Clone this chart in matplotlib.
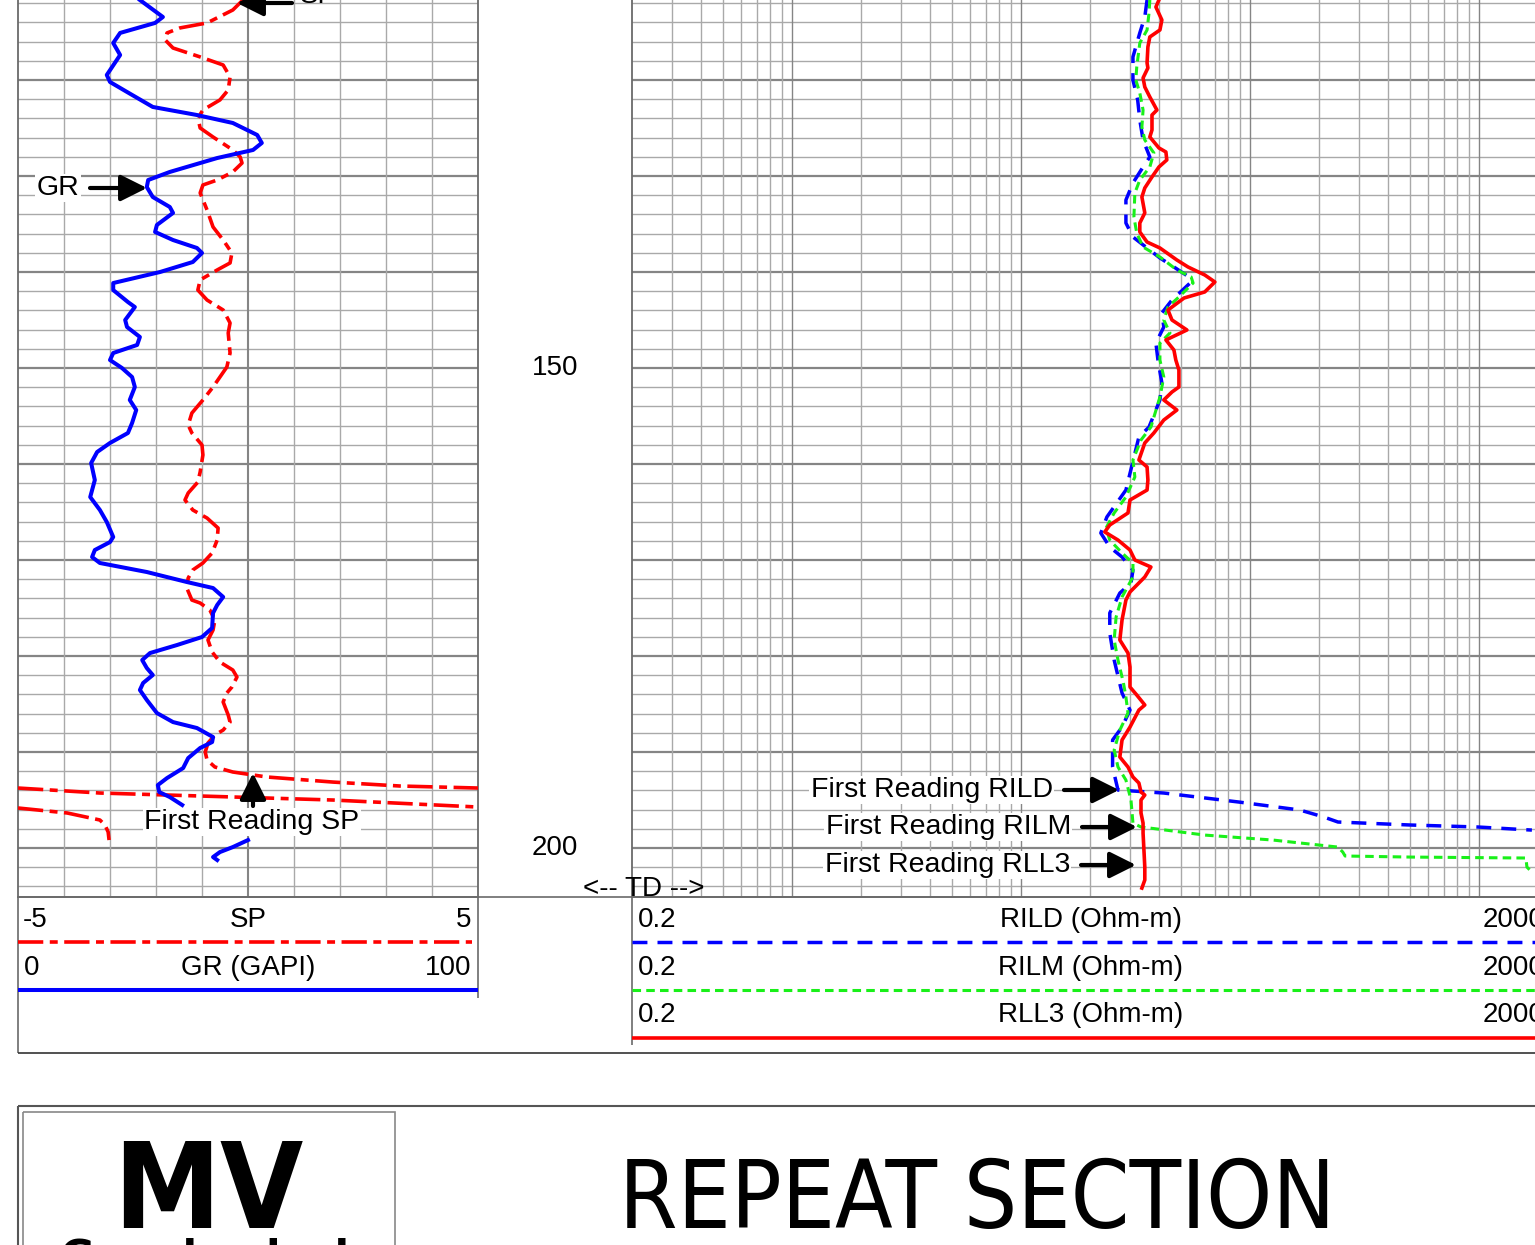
import os
import numpy as np
import matplotlib.pyplot as plt
import matplotlib.font_manager as fm
from matplotlib.patches import Rectangle

plt.rcParams['font.family'] = ['Liberation Sans', 'DejaVu Sans']
plt.rcParams['font.size'] = 20

W, H = 1535, 1245

# -----------------------------
# Log data (depth in ft)
# -----------------------------
depth_top = 111.67
depth_bottom = 205.1
depth_labels = [150, 200]

gr_depth = [
    111.67, 113.44, 114.06, 115.10, 116.15, 117.40, 119.48, 120.21, 121.25, 122.81,
    123.65, 124.48, 125.73, 126.56, 127.29, 128.13, 129.58, 130.42, 131.15, 132.19,
    133.23, 133.85, 135.10, 135.83, 136.67, 137.50, 138.02, 138.96, 140.00, 141.15,
    141.88, 143.13, 143.65, 145.00, 145.73, 146.77, 147.60, 148.44, 149.17, 150.00,
    150.94, 151.98, 153.33, 154.38, 155.73, 156.77, 157.81, 158.75, 159.90, 161.67,
    163.44, 164.79, 166.04, 167.60, 168.13, 168.96, 169.69, 170.31, 171.25, 172.29,
    172.92, 173.85, 174.69, 175.52, 177.08, 178.02, 178.85, 179.69, 180.42, 181.25,
    181.98, 182.81, 183.54, 184.58, 185.94, 186.88, 187.50, 188.44, 188.96, 189.58,
    190.63, 191.67, 192.71, 193.44, 194.17, 194.69, 195.52]
gr_api = [
    26.5, 31.5, 29.8, 22.2, 20.7, 22.2, 19.3, 20.0, 23.7, 29.3,
    38.9, 46.7, 52.0, 53.0, 51.1, 43.3, 33.0, 28.3, 28.0, 29.3,
    33.0, 33.7, 30.2, 29.8, 33.7, 38.9, 40.0, 38.0, 30.9, 20.7,
    20.7, 23.9, 25.4, 23.3, 23.7, 26.5, 25.9, 20.7, 20.0, 22.6,
    24.8, 25.4, 24.3, 25.7, 24.8, 23.9, 20.0, 17.2, 15.9, 16.7,
    15.7, 17.8, 19.3, 20.7, 20.0, 16.7, 16.1, 17.8, 28.0, 36.7,
    42.4, 44.6, 43.3, 42.4, 42.2, 40.0, 34.6, 28.7, 27.0, 28.0,
    29.3, 27.2, 26.5, 28.0, 30.2, 33.7, 38.9, 42.4, 42.2, 39.6,
    37.0, 35.9, 32.4, 30.4, 30.7, 33.0, 35.7]

# short GR piece below the gap
gr2_depth = [199.17, 199.90, 200.42, 200.94, 201.25]
gr2_api = [50.0, 46.7, 43.9, 42.4, 43.3]

sp_depth = [
    111.67, 112.71, 114.06, 114.58, 115.10, 115.83, 116.67, 117.60, 118.44, 119.69,
    121.04, 122.08, 123.13, 123.96, 125.00, 125.94, 127.29, 128.02, 128.65, 129.58,
    130.42, 130.94, 131.77, 133.54, 135.31, 136.67, 138.02, 139.06, 139.79, 140.83,
    141.88, 142.92, 143.96, 145.31, 146.35, 148.44, 149.90, 151.98, 153.33, 154.69,
    155.94, 156.77, 158.02, 159.06, 160.83, 161.88, 163.02, 163.75, 164.79, 165.63,
    166.67, 167.92, 169.27, 170.31, 171.04, 171.88, 172.92, 174.17, 174.48, 175.21,
    176.25, 177.29, 178.33, 179.58, 180.63, 181.46, 182.19, 183.23, 183.85, 184.79,
    186.15, 186.88, 187.71, 188.23, 189.06, 190.00, 190.83, 191.56, 192.08, 192.60,
    193.13, 193.54, 193.75]
sp_mv = [
    -0.11, -0.33, -0.89, -1.48, -1.76, -1.80, -1.63, -1.04, -0.54, -0.39,
    -0.43, -0.61, -0.98, -1.09, -1.04, -0.76, -0.33, -0.17, -0.13, -0.33,
    -0.67, -0.98, -1.04, -0.89, -0.76, -0.54, -0.35, -0.39, -0.67, -1.04,
    -1.09, -0.89, -0.54, -0.39, -0.43, -0.39, -0.46, -0.76, -0.98, -1.22,
    -1.30, -1.22, -1.00, -0.98, -1.04, -1.09, -1.30, -1.37, -1.20, -0.89,
    -0.65, -0.67, -0.78, -0.98, -1.20, -1.30, -1.33, -1.22, -1.04, -0.83,
    -0.72, -0.76, -0.87, -0.78, -0.61, -0.33, -0.24, -0.35, -0.46, -0.54,
    -0.43, -0.39, -0.54, -0.72, -0.87, -0.93, -0.89, -0.72, -0.33, 0.41,
    1.85, 3.30, 5.0]

# SP beyond the scale, shown on the wrap-around (backup) scale
sp_wrap1_depth = [193.75, 194.27, 194.58, 195.00, 195.73]
sp_wrap1_mv = [-5.0, -3.22, -1.04, 1.85, 5.0]
sp_wrap2_depth = [195.83, 196.35, 197.08, 197.60, 198.33, 199.17]
sp_wrap2_mv = [-5.0, -3.93, -3.22, -3.11, -3.04, -3.02]

rll3_depth = [
    111.67, 112.40, 113.75, 114.79, 115.52, 116.56, 118.23, 118.75, 119.79, 120.73,
    121.77, 123.13, 123.65, 125.21, 125.94, 127.08, 127.50, 128.33, 129.06, 130.10,
    131.25, 132.19, 133.85, 134.90, 135.83, 136.88, 137.50, 138.75, 139.48, 140.31,
    141.04, 142.08, 142.71, 143.96, 145.00, 146.04, 147.08, 148.13, 149.17, 150.21,
    151.98, 152.50, 153.33, 154.38, 155.42, 156.77, 157.81, 159.58, 160.31, 161.67,
    162.71, 163.75, 165.10, 166.35, 167.08, 167.92, 168.96, 170.00, 170.73, 171.77,
    173.33, 174.17, 176.25, 178.33, 179.69, 181.15, 183.23, 184.06, 185.10, 185.63,
    187.40, 188.75, 190.52, 191.56, 192.60, 193.23, 194.17, 194.48, 195.00, 196.35,
    197.40, 198.44, 201.98, 203.33, 204.17]
rll3_ohm = [
    40.0, 38.8, 41.2, 40.4, 36.5, 35.8, 35.5, 35.8, 34.1, 34.7,
    36.5, 39.2, 37.3, 37.3, 36.5, 40.0, 42.9, 43.3, 40.0, 37.3,
    34.7, 33.7, 34.7, 33.0, 33.0, 35.5, 40.4, 47.9, 53.6, 63.4,
    70.2, 63.4, 51.5, 43.8, 45.6, 53.0, 42.9, 46.5, 47.4, 48.9,
    48.9, 45.6, 42.0, 47.9, 42.0, 38.0, 34.7, 32.7, 35.5, 35.8,
    35.5, 29.9, 29.3, 24.4, 23.2, 26.5, 29.9, 31.4, 36.9, 34.7,
    29.9, 28.7, 27.6, 27.0, 29.3, 29.9, 29.9, 32.0, 34.7, 32.7,
    29.9, 27.6, 27.0, 29.3, 30.8, 32.7, 33.4, 34.7, 33.4, 33.4,
    34.1, 34.1, 34.7, 34.7, 33.7]

rilm_depth = [
    111.67, 113.02, 114.79, 116.15, 118.65, 120.00, 121.35, 123.13, 124.90, 126.25,
    127.60, 129.06, 130.42, 131.77, 134.27, 135.94, 137.40, 138.44, 139.79, 140.52,
    141.15, 142.60, 143.65, 145.00, 146.35, 147.40, 149.17, 150.94, 153.02, 156.15,
    157.50, 159.58, 161.35, 163.44, 165.10, 166.67, 167.92, 169.27, 170.31, 171.77,
    173.85, 175.94, 178.33, 180.42, 182.81, 184.27, 185.94, 187.71, 189.79, 191.56,
    192.92, 195.00, 197.40, 197.81, 197.92, 198.65, 199.17, 199.90, 200.42, 200.83,
    200.94, 201.04, 201.98, 202.50]
rilm_ohm = [
    36.5, 36.2, 35.5, 33.0, 32.0, 31.7, 33.0, 34.1, 33.7, 34.7,
    38.0, 36.5, 33.0, 31.4, 31.1, 32.0, 34.1, 40.4, 47.9, 55.3,
    56.4, 48.9, 43.8, 42.0, 44.7, 40.4, 40.4, 42.0, 40.4, 36.9,
    33.4, 30.8, 31.4, 28.7, 25.5, 23.5, 24.4, 27.6, 30.8, 30.8,
    27.6, 26.0, 25.5, 26.5, 28.0, 28.7, 29.3, 27.0, 25.5, 26.5,
    28.7, 30.2, 30.8, 33.4, 36.5, 63.4, 126, 242, 254, 260,
    499, 1602, 1618, 1701]

rild_depth = [
    111.67, 113.44, 115.10, 117.60, 120.00, 122.08, 124.17, 126.25, 128.02, 129.06,
    130.73, 132.50, 134.90, 136.35, 137.50, 138.54, 139.48, 140.52, 141.15, 142.92,
    144.27, 145.73, 147.40, 149.17, 151.56, 153.33, 156.15, 157.19, 162.71, 165.52,
    167.19, 168.65, 169.69, 171.04, 172.40, 173.44, 175.52, 177.60, 180.42, 183.85,
    185.63, 187.40, 188.75, 191.56, 193.13, 193.96, 194.27, 195.21, 196.04, 196.77,
    197.29, 197.60, 197.81, 198.13]
rild_ohm = [
    35.5, 34.7, 33.0, 30.8, 30.8, 32.3, 33.0, 34.1, 36.5, 34.1,
    30.8, 28.7, 28.7, 30.8, 35.5, 40.4, 46.5, 54.1, 54.7, 45.6,
    41.2, 42.0, 38.8, 39.6, 41.2, 40.4, 36.2, 32.7, 28.7, 23.7,
    22.3, 24.4, 27.6, 30.8, 30.2, 27.0, 24.4, 24.4, 25.5, 27.6,
    29.9, 27.6, 25.1, 25.1, 26.0, 26.5, 42.0, 89.4, 165, 210,
    242, 499, 989, 1701]

# -----------------------------
# Styles
# -----------------------------
MINOR = '#a9a9a9'
MAJOR = '#858585'
EDGE = '#6a6a6a'
GREEN = '#19f019'

sp_style = dict(color='#ff0000', lw=2.6, dashes=(7.0, 1.8, 2.2, 1.8))
gr_style = dict(color='#0000ff', lw=2.9)
rild_style = dict(color='#0000ff', lw=2.5, dashes=(4.3, 2.9))
rilm_style = dict(color=GREEN, lw=2.2, dashes=(2.8, 1.7))
rll3_style = dict(color='#ff0000', lw=2.6)


def narrow_font(bold):
    # look for an installed narrow / condensed sans face
    hits = []
    for f in fm.fontManager.ttflist:
        nm = (f.name + ' ' + os.path.basename(f.fname)).lower()
        if not ('narrow' in nm or 'condensed' in nm):
            continue
        if 'mono' in nm or 'italic' in nm or 'oblique' in nm:
            continue
        if any(w in nm for w in ('light', 'thin', 'semi', 'extra', 'medium', 'black')):
            continue
        if ('bold' in nm) != bold:
            continue
        rank = 0 if 'liberation' in nm else 1
        hits.append((rank, f.fname))
    hits.sort()
    return hits[0][1] if hits else None


fig = plt.figure(figsize=(W / 100, H / 100), dpi=100)


def box(x0, y0, x1, y1):
    return fig.add_axes([x0 / W, 1 - y1 / H, (x1 - x0) / W, (y1 - y0) / H])


def setup_track(ax):
    ax.set_ylim(depth_bottom, depth_top)
    ax.set_xticks([])
    ax.set_yticks([])
    ax.minorticks_off()
    ax.spines['top'].set_visible(False)
    for s in ['left', 'right', 'bottom']:
        ax.spines[s].set_color(EDGE)
        ax.spines[s].set_linewidth(1.3)
    for d in np.arange(112, 206, 2):
        major = d % 10 == 0
        ax.axhline(d, color=MAJOR if major else MINOR,
                   lw=1.6 if major else 1.0, zorder=1)


# left track: SP / GR
ax_sp = box(18, 0, 478, 897)
ax_sp.set_xlim(-5, 5)
setup_track(ax_sp)
for v in range(-4, 5):
    ax_sp.axvline(v, color=MAJOR if v == 0 else MINOR,
                  lw=1.5 if v == 0 else 1.0, zorder=1)

ax_sp.plot(sp_mv, sp_depth, zorder=5, **sp_style)
ax_sp.plot(sp_wrap1_mv, sp_wrap1_depth, zorder=5, **sp_style)
ax_sp.plot(sp_wrap2_mv, sp_wrap2_depth, zorder=5, **sp_style)

ax_gr = ax_sp.twiny()
ax_gr.set_xlim(0, 100)
ax_gr.set_ylim(depth_bottom, depth_top)
ax_gr.set_xticks([])
for s in ax_gr.spines.values():
    s.set_visible(False)
ax_gr.plot(gr_api, gr_depth, zorder=6, solid_joinstyle='round', **gr_style)
ax_gr.plot(gr2_api, gr2_depth, zorder=6, solid_joinstyle='round', **gr_style)

# depth track
ax_d = box(478, 0, 632, 897)
ax_d.set_ylim(depth_bottom, depth_top)
ax_d.axis('off')
for d in depth_labels:
    ax_d.text(0.5, d, str(d), transform=ax_d.get_yaxis_transform(),
              ha='center', va='center', fontsize=20)

# right track: resistivity (log)
ax_r = box(632, 0, 1548, 897)
ax_r.set_xscale('log')
ax_r.set_xlim(0.2, 2000)
setup_track(ax_r)
ax_r.minorticks_off()
for e in range(-1, 4):
    for k in range(1, 10):
        v = k * 10.0 ** e
        if 0.2 < v < 2000:
            ax_r.axvline(v, color=MINOR if k != 1 else MAJOR, lw=1.0, zorder=1)

ax_r.plot(rild_ohm, rild_depth, zorder=5, **rild_style)
ax_r.plot(rilm_ohm, rilm_depth, zorder=6, **rilm_style)
ax_r.plot(rll3_ohm, rll3_depth, zorder=7, solid_joinstyle='round', **rll3_style)

# -----------------------------
# Overlay: header, labels, title block
# -----------------------------
ov = fig.add_axes([0, 0, 1, 1])
ov.set_xlim(0, W)
ov.set_ylim(H, 0)
ov.axis('off')


def line(xs, ys, **kw):
    kw.setdefault('color', EDGE)
    kw.setdefault('lw', 1.2)
    ov.plot(xs, ys, solid_capstyle='butt', **kw)


def arrow(x0, y0, x1, y1):
    ov.annotate('', xy=(x1, y1), xytext=(x0, y0),
                arrowprops=dict(arrowstyle='-|>,head_length=0.8,head_width=0.4',
                                color='black', lw=3.0, shrinkA=0, shrinkB=0,
                                mutation_scale=20))


def label(x, y, s, ha='center'):
    ov.text(x, y, s, ha=ha, va='center', fontsize=20.5,
            bbox=dict(facecolor='white', edgecolor='none', pad=1))


# curve labels and first-reading marks
ov.text(300, -4, 'SP', ha='left', va='center', fontsize=20)
arrow(292, 3, 237, 3)
label(58, 188, 'GR')
arrow(90, 188, 147, 188)
arrow(253, 806, 253, 773)
label(252, 822, 'First Reading SP')
label(1053, 790, 'First Reading RILD', ha='right')
arrow(1064, 790, 1119, 790)
label(1071, 827, 'First Reading RILM', ha='right')
arrow(1082, 827, 1137, 827)
label(1070, 865, 'First Reading RLL3', ha='right')
arrow(1081, 865, 1136, 865)
ov.text(644, 889, '<-- TD -->', ha='center', va='center', fontsize=20)

# header frame
line([18, 1535], [897, 897])
line([18, 18], [897, 1053])
line([18, 1535], [1053, 1053], color='#333333')
line([478, 478], [897, 998])
line([632, 632], [897, 1045])

# left header
ov.text(23, 920, '-5', ha='left', va='center')
ov.text(248, 920, 'SP', ha='center', va='center')
ov.text(471, 920, '5', ha='right', va='center')
ov.plot([18, 472], [942, 942], solid_capstyle='butt', **sp_style)
ov.text(24, 968, '0', ha='left', va='center')
ov.text(248, 968, 'GR (GAPI)', ha='center', va='center')
ov.text(471, 968, '100', ha='right', va='center')
ov.plot([18, 478], [990, 990], solid_capstyle='butt', **gr_style)

# right header
rows = [(920, 942, 'RILD (Ohm-m)', rild_style),
        (968, 990, 'RILM (Ohm-m)', rilm_style),
        (1015, 1038, 'RLL3 (Ohm-m)', rll3_style)]
for ty, ly, name, st in rows:
    ov.text(638, ty, '0.2', ha='left', va='center')
    ov.text(1091, ty, name, ha='center', va='center')
    ov.text(1545, ty, '2000', ha='right', va='center')
    ov.plot([632, 1540], [ly, ly], solid_capstyle='butt', **st)

# title block
line([18, 1535], [1106, 1106], color='#555555', lw=1.5)
line([18, 18], [1106, 1245], color='#555555', lw=1.5)
ov.add_patch(Rectangle((23, 1112), 372, 150, fill=False, ec='#888888', lw=1.2))

nb = narrow_font(True)
nr = narrow_font(False)
if nb:
    fb = dict(fontproperties=fm.FontProperties(fname=nb))
    mv_size, geo_size, geo_base = 86, 34, 1273
else:
    fb = dict(family=['Liberation Sans', 'DejaVu Sans'], fontweight='bold')
    mv_size, geo_size, geo_base = 87, 30, 1264
if nr:
    fr = dict(fontproperties=fm.FontProperties(fname=nr))
    title_size = 67.5
else:
    fr = dict(family=['Liberation Sans', 'DejaVu Sans'])
    title_size = 60

t = ov.text(208, 1228, 'MV', ha='center', va='baseline', **fb)
t.set_fontsize(mv_size)
t = ov.text(205, geo_base, 'Geophysical', ha='center', va='baseline', **fb)
t.set_fontsize(geo_size)
t = ov.text(977, 1228, 'REPEAT SECTION', ha='center', va='baseline', **fr)
t.set_fontsize(title_size)

fig.savefig('out.png', dpi=100)
